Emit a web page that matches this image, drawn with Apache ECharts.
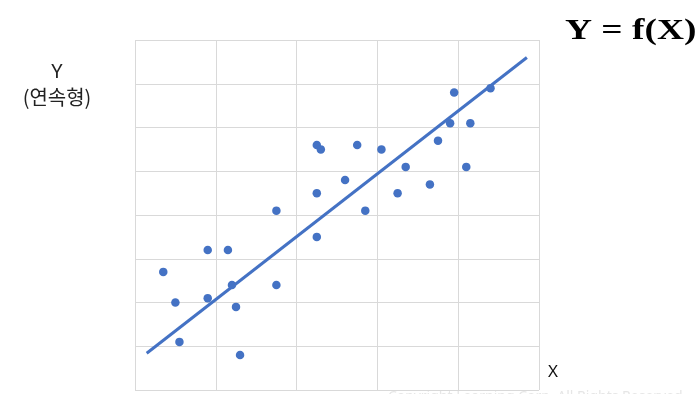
<!DOCTYPE html>
<html>
<head>
<meta charset="utf-8">
<script src="https://cdn.jsdelivr.net/npm/echarts@6/dist/echarts.min.js"></script>
<style>html,body{margin:0;padding:0;background:#fff}#c{width:700px;height:394px}</style>
</head>
<body>
<div id="c"></div>
<script>
var xValues = [0.35,0.50,0.55,0.90,0.90,1.15,1.20,1.25,1.30,1.75,1.75,2.25,2.30,2.25,2.25,2.60,2.75,2.85,3.05,3.25,3.35,3.65,3.75,3.90,3.95,4.10,4.15,4.40];
var yValues = [2.70,2.00,1.10,3.20,2.10,3.20,2.40,1.90,0.80,4.10,2.40,5.60,5.50,4.50,3.50,4.80,5.60,4.10,5.50,4.50,5.10,4.70,5.70,6.10,6.80,5.10,6.10,6.90];
var trendX = [0.145, 4.85];
var trendY = [0.84, 7.60];

var pts = xValues.map(function(x,i){return [x, yValues[i]];});
var trend = trendX.map(function(x,i){return [x, trendY[i]];});

var chart = echarts.init(document.getElementById('c'));
chart.setOption({
  animation: false,
  grid: {left: 135, top: 40, width: 404, height: 350},
  xAxis: {type:'value', min:0, max:5, interval:1,
    axisLine:{show:false}, axisTick:{show:false}, axisLabel:{show:false},
    splitLine:{show:true, lineStyle:{color:'#d9d9d9', width:1}}},
  yAxis: {type:'value', min:0, max:8, interval:1,
    axisLine:{show:false}, axisTick:{show:false}, axisLabel:{show:false},
    splitLine:{show:true, lineStyle:{color:'#d9d9d9', width:1}}},
  series: [
    {type:'scatter', data: pts, symbolSize: 8.5, itemStyle:{color:'#4472C4', opacity:1}, z:3},
    {type:'line', data: trend, symbol:'none', lineStyle:{color:'#4472C4', width:3}, z:2}
  ],
  graphic: [
    {type:'text', x: 57, y: 72, style:{text:'Y', font:'20px "Noto Sans", sans-serif', fill:'#222', align:'center', verticalAlign:'middle'}},
    {type:'text', x: 57, y: 97, style:{text:'(연속형)', font:'20px "Noto Sans CJK KR", sans-serif', fill:'#222', align:'center', verticalAlign:'middle'}},
    {type:'text', x: 548, y: 364, style:{text:'X', font:'17px "Noto Sans", sans-serif', fill:'#111'}},
    {type:'text', x: 565, y: 17, scaleX: 1.29, style:{text:'Y = f(X)', font:'bold 29px "Liberation Serif", serif', fill:'#000'}},
    {type:'text', x: 388, y: 390, style:{text:'Copyright Learning Corp. All Rights Reserved', font:'14px "Noto Sans", sans-serif', fill:'#e6e6e6'}}
  ]
});
</script>
</body>
</html>
